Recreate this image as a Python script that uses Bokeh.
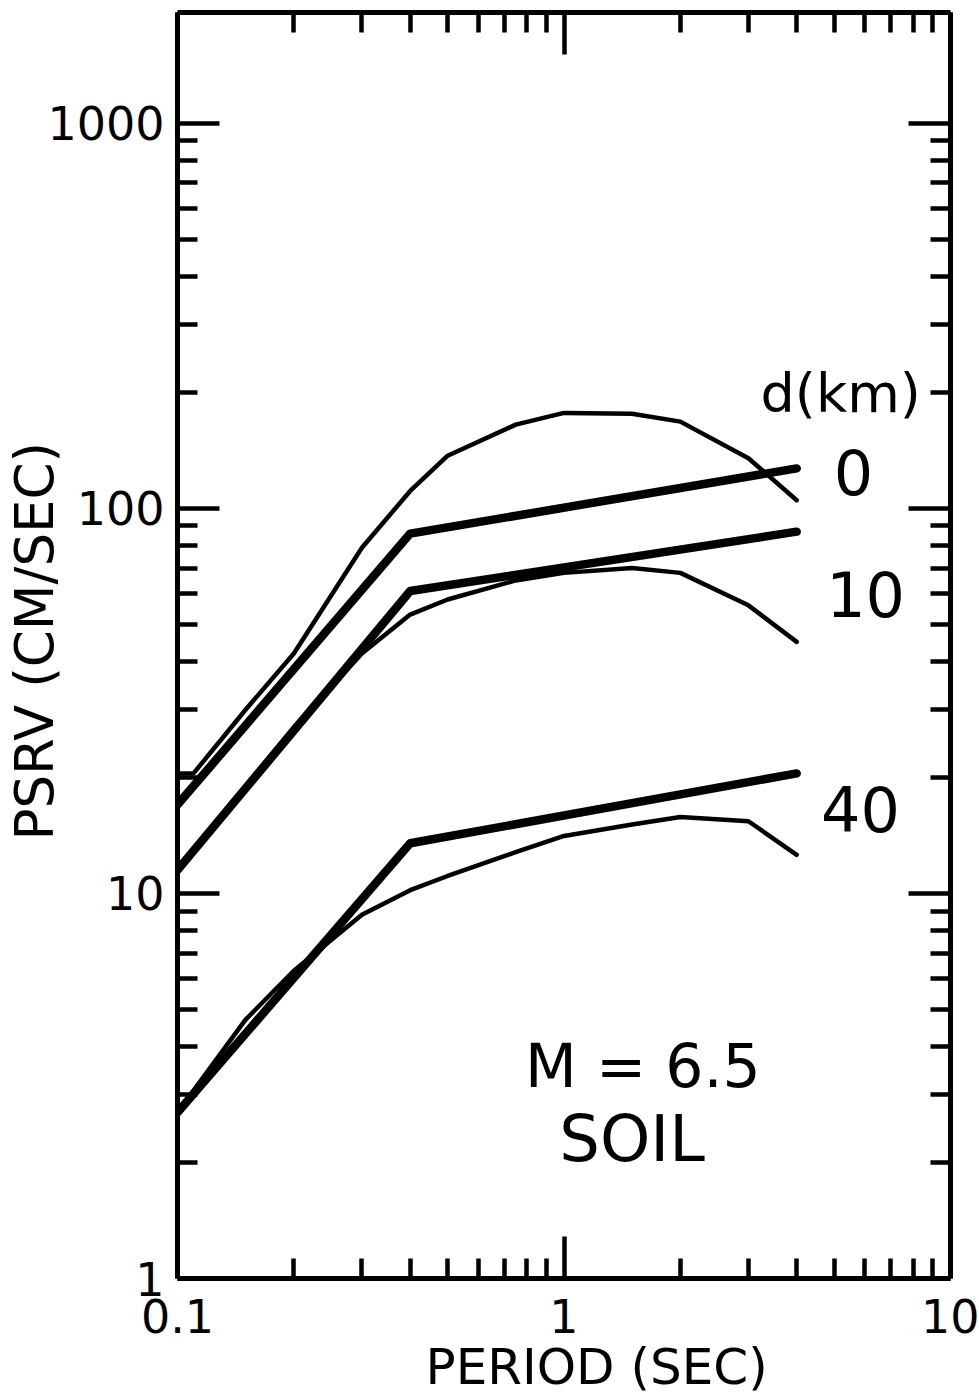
from bokeh.plotting import figure
from bokeh.models import FixedTicker, CustomJSTickFormatter, LogAxis, Label, Range1d, Title
from bokeh.embed import file_html
from bokeh.resources import INLINE

# ---- data ----
period_model = [0.1, 0.4, 4.0]
psrv_model_0 = [17.0, 86.0, 127.0]
psrv_model_10 = [11.5, 61.0, 87.0]
psrv_model_40 = [2.7, 13.5, 20.5]

period_obs_0 = [0.1, 0.11, 0.15, 0.2, 0.3, 0.4, 0.5, 0.75, 1.0, 1.5, 2.0, 3.0, 4.0]
psrv_obs_0 = [20.5, 20.5, 30, 42, 79, 111, 137, 165, 177, 176, 168, 135, 105]
period_obs = [0.1, 0.15, 0.2, 0.3, 0.4, 0.5, 0.75, 1.0, 1.5, 2.0, 3.0, 4.0]
psrv_obs_10 = [11.5, 19, 27, 42, 53, 58, 65, 68, 70, 68, 56, 45]
psrv_obs_40 = [2.7, 4.7, 6.3, 8.8, 10.2, 11.1, 12.8, 14.1, 15.1, 15.8, 15.4, 12.6]

x_major = [0.1, 1, 10]
y_major = [1, 10, 100, 1000]
x_minor = [k * 10.0 ** e for e in (-1, 0) for k in range(2, 10)]
y_minor = [k * 10.0 ** e for e in (0, 1, 2, 3) for k in range(2, 10) if k * 10.0 ** e < 1940]

FONT = "DejaVu Sans"

p = figure(width=979, height=1399, x_axis_type="log", y_axis_type="log",
           x_range=Range1d(0.1, 10), y_range=Range1d(1, 1940),
           output_backend="svg", toolbar_location=None,
           min_border_left=177, min_border_right=29, min_border_top=12, min_border_bottom=121)
p.outline_line_color = None
p.grid.visible = False
p.background_fill_color = "white"
p.border_fill_color = "white"


def style(ax, labels):
    ax.axis_line_width = 5
    ax.axis_line_color = "black"
    ax.major_tick_line_width = 4.5
    ax.minor_tick_line_width = 4.5
    ax.major_tick_line_color = "black"
    ax.minor_tick_line_color = "black"
    ax.major_tick_in = 42
    ax.major_tick_out = 0
    ax.minor_tick_in = 20
    ax.minor_tick_out = 0
    if labels:
        ax.formatter = CustomJSTickFormatter(code="return String(tick);")
        ax.major_label_text_font = FONT
        ax.major_label_text_font_size = "46px"
        ax.major_label_text_color = "black"
    else:
        ax.formatter = CustomJSTickFormatter(code="return '';")
        ax.major_label_text_font_size = "1px"
        ax.major_label_standoff = 0


xa = p.xaxis[0]
xa.ticker = FixedTicker(ticks=x_major, minor_ticks=x_minor)
style(xa, True)
xa.major_label_standoff = 20

ya = p.yaxis[0]
ya.ticker = FixedTicker(ticks=y_major, minor_ticks=y_minor)
style(ya, True)
ya.major_label_standoff = 13

top = LogAxis(ticker=FixedTicker(ticks=x_major, minor_ticks=x_minor))
style(top, False)
p.add_layout(top, "above")
right = LogAxis(ticker=FixedTicker(ticks=y_major, minor_ticks=y_minor))
style(right, False)
p.add_layout(right, "right")

# axis titles
p.add_layout(Title(text="PERIOD (SEC)", align="left", offset=248, standoff=1,
                   text_font=FONT, text_font_size="50px", text_font_style="normal",
                   text_color="black"), "below")
p.add_layout(Title(text="PSRV (CM/SEC)", align="left", offset=438, standoff=-40,
                   text_font=FONT, text_font_size="53px", text_font_style="normal",
                   text_color="black"), "left")

# ---- curves ----
for yy in (psrv_model_0, psrv_model_10, psrv_model_40):
    p.line(period_model, yy, line_width=8.5, line_color="black", line_join="round", line_cap="round")
p.line(period_obs_0, psrv_obs_0, line_width=4.5, line_color="black", line_join="round", line_cap="round")
p.line(period_obs, psrv_obs_10, line_width=4.5, line_color="black", line_join="round", line_cap="round")
p.line(period_obs, psrv_obs_40, line_width=4.5, line_color="black", line_join="round", line_cap="round")


# ---- texts ----
def lab(x, y, text, size, align="center"):
    p.add_layout(Label(x=x, y=y, text=text, text_font=FONT, text_font_size=size,
                       text_align=align, text_baseline="middle", text_color="black"))


lab(5.2, 199, "d(km)", "54px")
lab(5.61, 124, "0", "62px")
lab(6.03, 59.8, "10", "62px")
lab(5.85, 16.6, "40", "62px")
lab(1.60, 3.57, "M = 6.5", "60px")
lab(1.50, 2.30, "SOIL", "64px")

open("out.html", "w").write(file_html(p, INLINE))
